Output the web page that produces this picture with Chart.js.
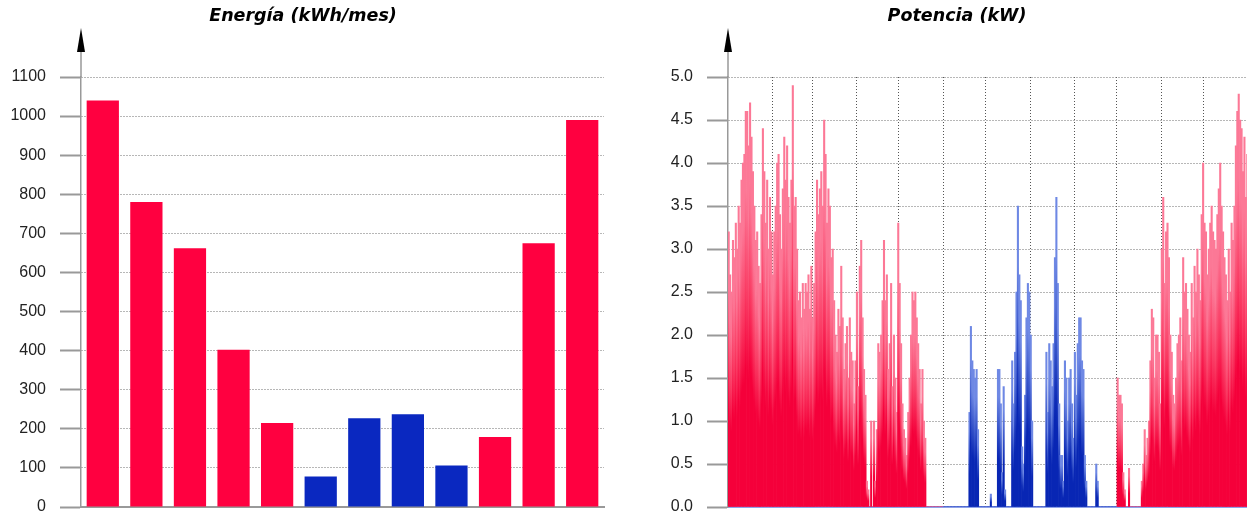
<!DOCTYPE html>
<html>
<head>
<meta charset="utf-8">
<script src="https://cdn.jsdelivr.net/npm/chart.js@4.4.1/dist/chart.umd.min.js"></script>
<style>
  html, body { margin: 0; padding: 0; background: #fff; overflow: hidden; }
  #wrap { position: relative; width: 1247px; height: 517px; overflow: hidden; }
  #energia { position: absolute; left: 0; top: 0; }
  #potencia { position: absolute; left: 620px; top: 0; }
</style>
</head>
<body>
<div id="wrap">
  <canvas id="energia" width="620" height="517"></canvas>
  <canvas id="potencia" width="674" height="517"></canvas>
</div>
<script>
// datos
const meses = ["Ene", "Feb", "Mar", "Abr", "May", "Jun", "Jul", "Ago", "Sep", "Oct", "Nov", "Dic"];
const energiaMes = [1040, 780, 662, 402, 215, 78, 227, 237, 106, 179, 675, 990];
const modoMes = ["cal", "cal", "cal", "cal", "cal", "ref", "ref", "ref", "ref", "cal", "cal", "cal"];

// potencia maxima diaria (kW), un valor por dia
const potenciaEne = [3.2, 2.7, 2.5, 3.1, 2.9, 3.3, 3.0, 3.5, 3.3, 3.8, 4.0, 4.1, 4.6, 4.6, 4.2, 4.7, 4.3, 3.9, 3.5, 3.1, 3.2, 2.8, 2.6, 3.4, 4.4, 3.9, 3.3, 3.8, 3.0, 3.6, 3.2];
const potenciaFeb = [2.7, 3.2, 3.5, 4.0, 4.1, 3.4, 3.0, 3.7, 4.3, 3.8, 4.2, 3.6, 3.3, 3.8, 4.9, 3.5, 3.6, 3.0, 2.4, 2.5, 2.2, 2.6, 2.3, 2.6, 2.5, 2.7, 2.3, 2.8];
const potenciaMar = [2.2, 2.6, 3.2, 3.8, 3.4, 3.7, 3.9, 3.5, 4.5, 4.1, 3.3, 3.7, 3.5, 2.9, 3.0, 2.4, 2.0, 1.8, 2.3, 2.1, 2.8, 2.2, 1.6, 1.9, 2.1, 1.5, 2.2, 1.8, 1.7, 1.2, 1.7];
const potenciaAbr = [2.5, 1.4, 2.8, 3.1, 2.2, 1.6, 1.3, 0.3, 0.2, 0, 1.0, 0, 1.0, 0.3, 0.9, 1.9, 1.8, 2.0, 2.4, 3.1, 2.4, 2.7, 1.6, 1.9, 2.6, 1.4, 2.0, 1.5, 1.1, 3.3];
const potenciaMay = [2.6, 1.9, 1.2, 0.9, 0.8, 0.6, 1.1, 1.5, 2.0, 2.5, 2.4, 2.5, 2.2, 1.9, 1.6, 1.2, 1.6, 1.0, 0.8, 0, 0, 0, 0, 0, 0, 0, 0, 0, 0, 0, 0];
const potenciaJun = [0, 0, 0, 0, 0, 0, 0, 0, 0, 0, 0, 0, 0, 0, 0, 0, 0, 0, 1.1, 2.1, 1.7, 1.6, 1.5, 1.6, 0.9, 0, 0, 0, 0, 0];
const potenciaJul = [0, 0, 0, 0.15, 0, 0, 0, 0, 1.6, 1.6, 1.2, 0.4, 1.4, 0.2, 0, 0, 0, 0, 1.7, 1.2, 1.8, 2.5, 3.5, 2.7, 2.4, 0.7, 0.5, 1.3, 2.2, 2.6, 2.5];
const potenciaAgo = [2.0, 1.0, 0, 0, 0, 0, 0, 0, 0, 0, 0, 1.8, 1.1, 1.9, 1.7, 1.4, 1.9, 2.9, 3.6, 2.6, 1.2, 0.6, 0.6, 0.3, 1.7, 1.5, 1.0, 1.5, 1.6, 1.2, 0.8];
const potenciaSep = [1.8, 1.3, 1.9, 2.2, 2.2, 1.7, 1.6, 0.6, 0.3, 0, 0, 0, 0, 0, 0, 0.5, 0.3, 0, 0, 0, 0, 0, 0, 0, 0, 0, 0, 0, 0, 0];
const potenciaOct = [1.5, 1.3, 1.3, 1.2, 0.4, 0.2, 0, 0, 0.45, 0, 0, 0, 0, 0, 0, 0, 0, 0.3, 0.5, 0.9, 0.6, 0.8, 1.0, 1.7, 2.3, 2.2, 1.5, 2.0, 2.0, 1.8, 1.2];
const potenciaNov = [3.0, 3.6, 2.6, 3.2, 3.3, 2.9, 2.0, 1.8, 1.3, 1.2, 1.5, 1.9, 2.0, 2.2, 1.7, 2.9, 2.5, 2.6, 2.3, 2.0, 1.8, 2.6, 2.2, 2.8, 2.5, 3.0, 2.7, 2.4, 3.4, 4.0];
const potenciaDic = [3.3, 3.2, 2.7, 3.0, 3.3, 3.5, 3.2, 3.1, 3.0, 3.4, 3.7, 4.0, 3.5, 3.2, 2.9, 2.7, 2.4, 3.0, 2.5, 3.3, 3.1, 3.5, 4.2, 4.6, 4.8, 4.5, 4.4, 3.9, 4.3, 3.6, 4.1];

const potenciaMeses = [potenciaEne, potenciaFeb, potenciaMar, potenciaAbr, potenciaMay, potenciaJun,
  potenciaJul, potenciaAgo, potenciaSep, potenciaOct, potenciaNov, potenciaDic];

const colores = {
  cal: { solido: "#ff0040", oscuro: "rgb(245,0,58)", medio: "rgb(250,60,100)", claro: "rgb(252,120,150)" },
  ref: { solido: "#0a28c0", oscuro: "rgb(8,38,180)", medio: "rgb(50,80,200)", claro: "rgb(110,136,228)" },
};

// puntos diarios y limites de mes
const puntos = [];
const modoDia = [];
const inicioMes = [];
let dia = 0;
potenciaMeses.forEach((valores, m) => {
  inicioMes.push(dia);
  valores.forEach((v) => {
    puntos.push({ x: dia + 0.5, y: v });
    modoDia.push(modoMes[m]);
    dia++;
  });
});
const totalDias = dia;

const fuenteEje = { family: "'Liberation Sans', Arial, sans-serif", size: 16 };

// flecha del eje y titulo
const adornos = {
  id: "adornos",
  afterDraw(chart, args, opts) {
    const { ctx, chartArea } = chart;
    const x = chartArea.left;
    ctx.save();
    ctx.strokeStyle = "#999";
    ctx.lineWidth = 1.5;
    ctx.beginPath();
    ctx.moveTo(x, chartArea.top);
    ctx.lineTo(x, chartArea.top - 28);
    ctx.stroke();
    ctx.fillStyle = "#000";
    ctx.beginPath();
    ctx.moveTo(x, chartArea.top - 49);
    ctx.lineTo(x - 4, chartArea.top - 25);
    ctx.lineTo(x + 4, chartArea.top - 25);
    ctx.closePath();
    ctx.fill();

    ctx.font = "italic bold 17.5px 'DejaVu Sans', Verdana, sans-serif";
    ctx.textAlign = "center";
    ctx.textBaseline = "middle";
    ctx.fillText(opts.texto, opts.centro, 16);
    ctx.restore();
  },
};

const ejeY = (max, step, ancho, decimales) => ({
  min: 0,
  max: max,
  ticks: {
    stepSize: step,
    padding: 14,
    color: "#222",
    font: fuenteEje,
    callback: (v) => (decimales ? Number(v).toFixed(1) : v),
  },
  grid: { color: "#6f6f6f", lineWidth: 1, tickColor: "#999", tickWidth: 2, tickLength: 21 },
  border: { dash: [1, 2], color: "#999", width: 1.5 },
  afterFit: (s) => {
    s.width = ancho;
    s.paddingTop = 0;
    s.paddingBottom = 0;
  },
});

const ejeXVacio = {
  grid: { display: false, drawTicks: false },
  ticks: { display: false },
  border: { display: true, color: "#999", width: 2 },
  afterFit: (s) => { s.height = 10; },
};

new Chart(document.getElementById("energia"), {
  type: "bar",
  data: {
    labels: meses,
    datasets: [{
      data: energiaMes,
      backgroundColor: modoMes.map((m) => colores[m].solido),
      barPercentage: 0.74,
      categoryPercentage: 1,
    }],
  },
  options: {
    responsive: false,
    animation: false,
    events: [],
    layout: { padding: { left: 0, right: 16, top: 77, bottom: 0 } },
    plugins: {
      legend: { display: false },
      tooltip: { enabled: false },
      adornos: { texto: "Energía (kWh/mes)", centro: 303 },
    },
    scales: {
      x: ejeXVacio,
      y: ejeY(1100, 100, 81, false),
    },
  },
  plugins: [adornos],
});

const colorBarra = (ctx) => {
  const modo = colores[modoDia[ctx.dataIndex]];
  const v = ctx.raw ? ctx.raw.y : 0;
  const ys = ctx.chart.scales.y;
  if (!ys || !v) return modo.oscuro;
  const base = ys.getPixelForValue(0);
  const tope = ys.getPixelForValue(v);
  if (!Number.isFinite(base) || !Number.isFinite(tope) || base === tope) return modo.oscuro;
  const g = ctx.chart.ctx.createLinearGradient(0, base, 0, tope);
  g.addColorStop(0, modo.oscuro);
  g.addColorStop(0.35, modo.oscuro);
  g.addColorStop(0.55, modo.medio);
  g.addColorStop(0.8, modo.claro);
  g.addColorStop(1, modo.claro);
  return g;
};

new Chart(document.getElementById("potencia"), {
  type: "bar",
  data: {
    datasets: [{
      data: puntos,
      backgroundColor: colorBarra,
      barPercentage: 1,
      categoryPercentage: 1,
    }],
  },
  options: {
    responsive: false,
    animation: false,
    events: [],
    layout: { padding: { left: 0, right: 46, top: 77, bottom: 0 } },
    plugins: {
      legend: { display: false },
      tooltip: { enabled: false },
      adornos: { texto: "Potencia (kW)", centro: 337 },
    },
    scales: {
      x: {
        type: "linear",
        min: 0,
        max: totalDias,
        offset: false,
        z: 1,
        afterBuildTicks: (s) => { s.ticks = inicioMes.slice(1).map((v) => ({ value: v })); },
        ticks: { display: false },
        grid: { color: "#555", lineWidth: 1, drawTicks: false, offset: false },
        border: { dash: [1, 2], color: "#8ea2e8", width: 2 },
        afterFit: (s) => { s.height = 10; },
      },
      y: ejeY(5, 0.5, 108, true),
    },
  },
  plugins: [adornos],
});
</script>
</body>
</html>
